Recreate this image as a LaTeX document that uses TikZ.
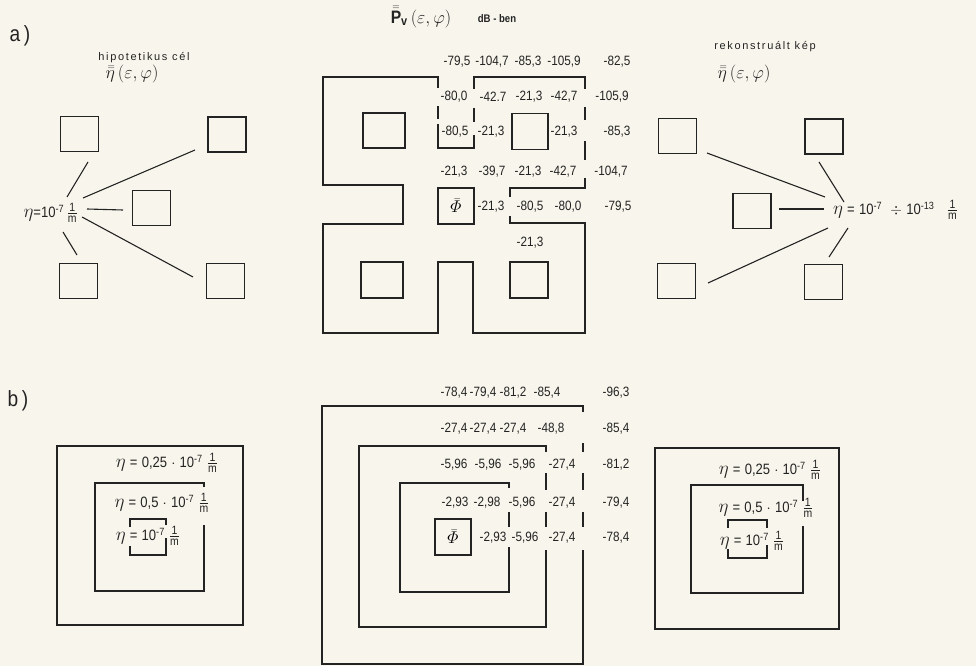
\RequirePackage{fix-cm}
\documentclass[tikz,border=0pt]{standalone}
\usepackage{amsmath}
\usepackage[no-math]{fontspec}
\setsansfont[FakeStretch=0.87]{Liberation Sans}
\newfontfamily\spacedsans[LetterSpace=15]{Liberation Sans}
\definecolor{paper}{RGB}{248,246,236}
\definecolor{ink}{RGB}{35,35,35}
\newcommand{\om}{\ensuremath{\frac{\text{\fontsize{12}{12}\selectfont\sffamily 1}}{\text{\fontsize{12}{12}\selectfont\sffamily m}}}}
\newcommand{\eeta}{{\fontsize{19}{19}\selectfont$\eta$}}
\newcommand{\tenm}[1]{10\textsuperscript{#1}}
\newcommand{\numfont}{\fontsize{13.5}{15}\selectfont\sffamily}
\newcommand{\lblfont}{\fontsize{15}{17}\selectfont\sffamily}
\newcommand{\etabar}{$\bar{\bar{\eta}}\,(\varepsilon,\varphi)$}
\begin{document}
\begin{tikzpicture}[x=1pt,y=-1pt,
  sq/.style={draw=ink, line width=1.4pt, minimum width=38pt, minimum height=35pt, inner sep=0pt},
  num/.style={font=\numfont, text=ink, inner sep=0pt},
  lbl/.style={font=\lblfont, text=ink, inner sep=0pt},
  conn/.style={draw=ink, line width=1.1pt},
  wall/.style={draw=ink, line width=1.4pt}]
\fill[paper] (0,0) rectangle (976,666);
\useasboundingbox (0,0) rectangle (976,666);

% panel labels
\node[lbl, font=\fontsize{22}{24}\selectfont\sffamily] (lba) at (20,36) {a\,)};
\node[lbl, font=\fontsize{22}{24}\selectfont\sffamily] (lbb) at (18,401) {b\,)};

% ---------- a) left: hypothetical target
\node[lbl, font=\spacedsans\fontsize{11}{13}\selectfont] (hyp) at (144,58) {hipotetikus cél};
\node[lbl, font=\fontsize{18}{20}\selectfont] (hypeta) at (132,74) {\etabar};
\node[sq] (aTL) at (79.5,134) {};
\node[sq] (aTR) at (227,134.5) {};
\node[sq] (aM) at (151.5,208) {};
\node[sq] (aBL) at (78.5,281) {};
\node[sq] (aBR) at (225.5,281) {};
\node[lbl, anchor=east] (L1) at (78,213) {\eeta=\tenm{-7}\,\om};
\draw[conn] ([shift={(-11,-16)}]L1.east) -- ([shift={(8.5,28)}]aTL.center);
\draw[conn] ([shift={(5,-15)}]L1.east) -- ([shift={(-32,15.5)}]aTR.center);
\draw[conn] ([shift={(9,-4)}]L1.east) -- ([shift={(-28.5,2)}]aM.center);
\draw[conn] ([shift={(4,4)}]L1.east) -- ([shift={(-32.5,-4)}]aBR.center);
\draw[conn] ([shift={(-15,19)}]L1.east) -- ([shift={(-1.5,-26)}]aBL.center);

% ---------- a) right: reconstructed image
\node[lbl, font=\spacedsans\fontsize{11}{13}\selectfont] (rek) at (765,47) {rekonstruált kép};
\node[lbl, font=\fontsize{18}{20}\selectfont] (reketa) at (744,74) {\etabar};
\node[sq] (bTL) at (677.5,136) {};
\node[sq] (bTR) at (824,136.5) {};
\node[sq] (bM) at (752,211) {};
\node[sq] (bBL) at (676.5,281) {};
\node[sq] (bBR) at (823.5,282) {};
\node[lbl, anchor=west] (L2) at (833,210) {\eeta\;=\;\tenm{-7}\;\;$\div$\;\tenm{-13}\;\;\;\om};
\draw[conn] ([shift={(29.5,17)}]bTL.center) -- ([shift={(-8,-13)}]L2.west);
\draw[conn] ([shift={(-5,25.5)}]bTR.center) -- ([shift={(11,-8)}]L2.west);
\draw[conn] ([shift={(27,-2)}]bM.center) -- ([shift={(-9,-1)}]L2.west);
\draw[conn] ([shift={(31.5,2)}]bBL.center) -- ([shift={(-5,18)}]L2.west);
\draw[conn] ([shift={(5.5,-25)}]bBR.center) -- ([shift={(15,18)}]L2.west);

% ---------- a) centre: P_v in dB
\node[lbl, font=\fontsize{18}{19}\selectfont] (pv) at (421,17) {$\bar{\bar{\text{\sffamily\bfseries P}}}_{\text{\sffamily\bfseries v}}\,(\varepsilon,\varphi)$};
\node[lbl, font=\sffamily\bfseries\fontsize{11}{12}\selectfont] (db) at (497,19) {dB - ben};

\draw[wall] (438,88) -- (438,77) -- (323,77) -- (323,185) -- (403,185) -- (403,224) -- (323,224)
  -- (323,333) -- (438,333) -- (438,262) -- (473,262) -- (473,333) -- (585,333) -- (585,223)
  -- (510,223) -- (510,216);
\draw[wall] (438,106) -- (438,119);
\draw[wall] (438,124) -- (438,148) -- (474,148) -- (474,135);
\draw[wall] (474,108) -- (474,122);
\draw[wall] (474,89) -- (474,77) -- (585,77) -- (585,89);
\draw[wall] (585,107) -- (585,120);
\draw[wall] (585,141) -- (585,160);
\draw[wall] (585,178) -- (585,188) -- (510,188) -- (510,197);
\node[sq, minimum width=42pt] (cUL) at (384,130.5) {};
\node[sq, minimum width=36pt, minimum height=36pt] (cUR) at (530,131.5) {};
\node[sq, minimum width=36pt, minimum height=36pt, font=\fontsize{17}{17}\selectfont] (phiA) at (456,206) {$\bar{\varPhi}$};
\node[sq, minimum width=42pt, minimum height=36pt] (cLL) at (382,280) {};
\node[sq, minimum width=38pt, minimum height=36pt] (cLR) at (529,280) {};

\node[num] (a11) at (457,62) {-79,5};
\node[num] (a12) at (492,62) {-104,7};
\node[num] (a13) at (528,62) {-85,3};
\node[num] (a14) at (564,62) {-105,9};
\node[num] (a15) at (617,62) {-82,5};
\node[num] (a21) at (454,97) {-80,0};
\node[num] (a22) at (493,97) {-42.7};
\node[num] (a23) at (529,97) {-21,3};
\node[num] (a24) at (564,97) {-42,7};
\node[num] (a25) at (612,97) {-105,9};
\node[num] (a31) at (455,132) {-80,5};
\node[num] (a32) at (491,132) {-21,3};
\node[num] (a34) at (564,132) {-21,3};
\node[num] (a35) at (617,132) {-85,3};
\node[num] (a41) at (454,172) {-21,3};
\node[num] (a42) at (492,172) {-39,7};
\node[num] (a43) at (528,172) {-21,3};
\node[num] (a44) at (563,172) {-42,7};
\node[num] (a45) at (611,172) {-104,7};
\node[num] (a52) at (491,207) {-21,3};
\node[num] (a53) at (530,207) {-80,5};
\node[num] (a54) at (568,207) {-80,0};
\node[num] (a55) at (618,207) {-79,5};
\node[num] (a63) at (530,243) {-21,3};

% ---------- b) left
\draw[wall] (57,446) rectangle (243,625);
\draw[wall] (204,487) -- (204,483) -- (95,483) -- (95,591) -- (204,591) -- (204,525);
\draw[wall] (130,527) -- (130,519) -- (166,519) -- (166,525);
\draw[wall] (130,546) -- (130,555) -- (166,555) -- (166,538);
\node[lbl] (T1) at (167,463) {\eeta\;=\;0,25\;$\cdot$\;\tenm{-7}\;\om};
\node[lbl] (T2) at (162,503) {\eeta\;=\;0,5\;$\cdot$\;\tenm{-7}\;\om};
\node[lbl] (T3) at (148,536) {\eeta\;=\;\tenm{-7}\;\om};

% ---------- b) centre
\draw[wall] (583,412) -- (583,406) -- (322,406) -- (322,664) -- (583,664) -- (583,550);
\draw[wall] (583,443) -- (583,452);
\draw[wall] (583,473) -- (583,490);
\draw[wall] (583,512) -- (583,527);
\draw[wall] (546,452) -- (546,446) -- (359,446) -- (359,627) -- (546,627) -- (546,550);
\draw[wall] (546,473) -- (546,490);
\draw[wall] (546,512) -- (546,527);
\draw[wall] (509,488) -- (509,483) -- (400,483) -- (400,592) -- (509,592) -- (509,547);
\draw[wall] (509,512) -- (509,527);
\node[sq, minimum width=36pt, minimum height=36pt, font=\fontsize{17}{17}\selectfont] (phiB) at (453,537) {$\bar{\varPhi}$};

\node[num] (b11) at (454,393) {-78,4};
\node[num] (b12) at (483,393) {-79,4};
\node[num] (b13) at (513,393) {-81,2};
\node[num] (b14) at (547,393) {-85,4};
\node[num] (b15) at (616,393) {-96,3};
\node[num] (b21) at (454,429) {-27,4};
\node[num] (b22) at (483,429) {-27,4};
\node[num] (b23) at (513,429) {-27,4};
\node[num] (b24) at (551,429) {-48,8};
\node[num] (b25) at (616,429) {-85,4};
\node[num] (b31) at (454,465) {-5,96};
\node[num] (b32) at (488,465) {-5,96};
\node[num] (b33) at (522,465) {-5,96};
\node[num] (b34) at (562,465) {-27,4};
\node[num] (b35) at (616,465) {-81,2};
\node[num] (b41) at (455,503) {-2,93};
\node[num] (b42) at (487,503) {-2,98};
\node[num] (b43) at (522,503) {-5,96};
\node[num] (b44) at (562,503) {-27,4};
\node[num] (b45) at (616,503) {-79,4};
\node[num] (b52) at (493,538) {-2,93};
\node[num] (b53) at (525,538) {-5,96};
\node[num] (b54) at (562,538) {-27,4};
\node[num] (b55) at (616,538) {-78,4};

% ---------- b) right
\draw[wall] (655,448) rectangle (839,629);
\draw[wall] (803,501) -- (803,485) -- (691,485) -- (691,593) -- (803,593) -- (803,526);
\draw[wall] (728,528) -- (728,520) -- (767,520) -- (767,528);
\draw[wall] (728,549) -- (728,558) -- (767,558) -- (767,545);
\node[lbl] (R1) at (770,470) {\eeta\;=\;0,25\;$\cdot$\;\tenm{-7}\;\om};
\node[lbl] (R2) at (766,508) {\eeta\;=\;0,5\;$\cdot$\;\tenm{-7}\;\om};
\node[lbl] (R3) at (752,541) {\eeta\;=\;\tenm{-7}\;\om};
\end{tikzpicture}
\end{document}
